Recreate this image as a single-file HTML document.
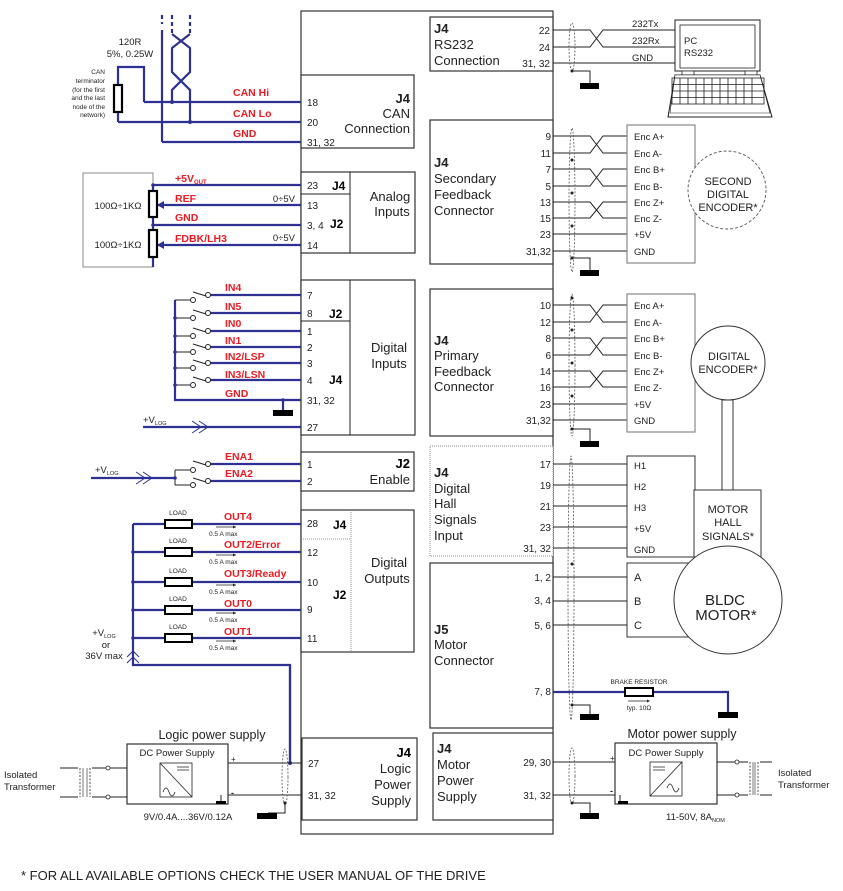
<!DOCTYPE html>
<html><head><meta charset="utf-8"><style>
html,body{margin:0;padding:0;background:#fff;}
svg{display:block;font-family:"Liberation Sans",Arial,sans-serif;}
.b{stroke:#2e3192;stroke-width:2.2;fill:none}
.k{stroke:#222;stroke-width:1;fill:none}
.bx{stroke:#333;stroke-width:1.2;fill:#fff}
.r{fill:#ed1c24;font-weight:bold;font-size:10.5px}
.p{font-size:10px;fill:#222}
.t{font-size:13px;fill:#222}
.s{font-size:9.5px;fill:#222}
.sh{stroke:#555;stroke-width:0.8;fill:none;stroke-dasharray:2,1.5}
</style></head><body>
<svg width="843" height="891" viewBox="0 0 843 891">
<defs>
<g id="gnd"><line x1="0" y1="0" x2="0" y2="0" /><rect x="-10" y="0" width="20" height="6" fill="#000"/></g>
</defs>
<!-- main drive outline -->
<rect x="301" y="11" width="252" height="823" fill="#fff" stroke="#333" stroke-width="1.2"/>

<!-- ===== CAN ===== -->
<rect class="bx" x="301" y="75" width="113" height="73"/>
<text class="t" x="410" y="103" text-anchor="end" font-weight="bold">J4</text>
<text class="t" x="410" y="118" text-anchor="end">CAN</text>
<text class="t" x="410" y="133" text-anchor="end">Connection</text>
<text class="p" x="307" y="106">18</text><text class="p" x="307" y="126">20</text><text class="p" x="307" y="146">31, 32</text>
<path class="b" d="M144 102H301M118 122H301M162 142H301M162 142V30"/>
<path class="b" d="M118 85V67H144V102" stroke-width="1.6"/>
<path class="b" d="M118 112V122" stroke-width="1.6"/>
<path class="b" d="M162 15V24M172 15V34M190 15V34" stroke-dasharray="4,3"/>
<path class="b" d="M172 34L190 48V72L172 90V102M190 34L172 48V72L190 90V122" stroke-width="1.4"/>
<circle cx="172" cy="102" r="2" fill="#2e3192"/><circle cx="190" cy="122" r="2" fill="#2e3192"/>
<rect x="114" y="85" width="8" height="27" fill="#fff" stroke="#000" stroke-width="2.2"/>
<text class="s" x="130" y="45" text-anchor="middle" font-size="10.5">120R</text>
<text class="s" x="130" y="57" text-anchor="middle" font-size="10.5">5%, 0.25W</text>
<g font-size="6.5" fill="#222" text-anchor="end">
<text x="105" y="74">CAN</text><text x="105" y="83">terminator</text><text x="105" y="92">(for the first</text><text x="105" y="100">and the last</text><text x="105" y="109">node of the</text><text x="105" y="117">network)</text></g>
<text class="r" x="233" y="96">CAN Hi</text><text class="r" x="233" y="117">CAN Lo</text><text class="r" x="233" y="137">GND</text>

<!-- ===== Analog ===== -->
<rect class="bx" x="301" y="172" width="114" height="81"/>
<path class="k" d="M350 172V253M301 194H350"/>
<text class="t" x="390" y="201" text-anchor="middle">Analog</text><text class="t" x="392" y="216" text-anchor="middle">Inputs</text>
<text x="332" y="190" font-size="12" font-weight="bold">J4</text><text x="330" y="228" font-size="12" font-weight="bold">J2</text>
<text class="p" x="307" y="189">23</text><text class="p" x="307" y="209">13</text><text class="p" x="307" y="229">3, 4</text><text class="p" x="307" y="249">14</text>
<rect x="83" y="173" width="70" height="94" fill="#fff" stroke="#888" stroke-width="1"/>
<path class="b" d="M153 185H301M153 225H301M153 185V267"/>
<path class="b" d="M158 205H301M158 245H301"/>
<path d="M157 205l7-4v8zM157 245l7-4v8z" fill="#2e3192"/>
<rect x="149" y="191" width="8" height="26" fill="#fff" stroke="#000" stroke-width="2.2"/>
<rect x="149" y="230" width="8" height="27" fill="#fff" stroke="#000" stroke-width="2.2"/>
<circle cx="153" cy="185" r="1.8" fill="#2e3192"/><circle cx="153" cy="225" r="1.8" fill="#2e3192"/>
<text class="s" x="118" y="209" text-anchor="middle">100Ω÷1KΩ</text><text class="s" x="118" y="248" text-anchor="middle">100Ω÷1KΩ</text>
<text class="r" x="175" y="182">+5V<tspan font-size="6" dy="2">OUT</tspan></text>
<text class="r" x="175" y="202">REF</text><text class="r" x="175" y="221">GND</text><text class="r" x="175" y="242">FDBK/LH3</text>
<text class="s" x="295" y="202" text-anchor="end">0÷5V</text><text class="s" x="295" y="241" text-anchor="end">0÷5V</text>

<!-- ===== Digital inputs ===== -->
<rect class="bx" x="301" y="280" width="114" height="155"/>
<path class="k" d="M350 280V435M301 321H350"/>
<text class="t" x="389" y="352" text-anchor="middle">Digital</text><text class="t" x="389" y="368" text-anchor="middle">Inputs</text>
<text x="329" y="318" font-size="12" font-weight="bold">J2</text><text x="329" y="384" font-size="12" font-weight="bold">J4</text>
<g class="p"><text x="307" y="299">7</text><text x="307" y="317">8</text><text x="307" y="335">1</text><text x="307" y="351">2</text><text x="307" y="367">3</text><text x="307" y="384">4</text><text x="307" y="404">31, 32</text><text x="307" y="431">27</text></g>
<path class="b" d="M210 295H301M210 313H301M210 331H301M210 347H301M210 363H301M210 380H301M175 300V400H301M283 400V410"/>
<use href="#gnd" x="283" y="410"/>
<g class="k">
<path d="M175 300H190M175 318H190M175 336H190M175 352H190M175 368H190M175 385H190"/>
<path d="M193 292L206 296M193 310L206 314M193 328L206 332M193 344L206 348M193 360L206 364M193 377L206 381"/>
<g fill="#fff"><circle cx="193" cy="300" r="2.5"/><circle cx="193" cy="318" r="2.5"/><circle cx="193" cy="336" r="2.5"/><circle cx="193" cy="352" r="2.5"/><circle cx="193" cy="368" r="2.5"/><circle cx="193" cy="385" r="2.5"/>
<circle cx="208" cy="295" r="2.5"/><circle cx="208" cy="313" r="2.5"/><circle cx="208" cy="331" r="2.5"/><circle cx="208" cy="347" r="2.5"/><circle cx="208" cy="363" r="2.5"/><circle cx="208" cy="380" r="2.5"/></g></g>
<g fill="#2e3192"><circle cx="175" cy="318" r="1.8"/><circle cx="175" cy="336" r="1.8"/><circle cx="175" cy="352" r="1.8"/><circle cx="175" cy="368" r="1.8"/><circle cx="175" cy="385" r="1.8"/><circle cx="283" cy="400" r="1.8"/></g>
<text class="r" x="225" y="291">IN4</text><text class="r" x="225" y="310">IN5</text><text class="r" x="225" y="327">IN0</text><text class="r" x="225" y="344">IN1</text><text class="r" x="225" y="360">IN2/LSP</text><text class="r" x="225" y="378">IN3/LSN</text><text class="r" x="225" y="397">GND</text>
<path class="b" d="M143 427H301"/>
<path d="M192 421l9 6-9 6M199 421l9 6-9 6" stroke="#2e3192" stroke-width="1" fill="none"/>
<text class="s" x="143" y="423" font-size="10">+V<tspan font-size="5.5" dy="2">LOG</tspan></text>

<!-- ===== Enable ===== -->
<rect class="bx" x="301" y="452" width="113" height="39"/>
<text x="410" y="468" text-anchor="end" font-size="13" font-weight="bold">J2</text><text class="t" x="410" y="484" text-anchor="end">Enable</text>
<text class="p" x="307" y="468">1</text><text class="p" x="307" y="485">2</text>
<path class="b" d="M210 464H301M210 481H301M91 478H175"/>
<path d="M136 472l9 6-9 6M143 472l9 6-9 6" stroke="#2e3192" stroke-width="1" fill="none"/>
<path class="k" d="M175 470V485M175 470H190M175 485H190M193 461L206 465M193 478L206 482"/>
<g class="k" fill="#fff"><circle cx="193" cy="470" r="2.5" fill="#fff"/><circle cx="193" cy="485" r="2.5" fill="#fff"/><circle cx="208" cy="464" r="2.5" fill="#fff"/><circle cx="208" cy="481" r="2.5" fill="#fff"/></g>
<circle cx="175" cy="478" r="1.8" fill="#2e3192"/>
<text class="r" x="225" y="460">ENA1</text><text class="r" x="225" y="477">ENA2</text>
<text class="s" x="95" y="473" font-size="10">+V<tspan font-size="5.5" dy="2">LOG</tspan></text>

<!-- ===== Digital outputs ===== -->
<rect class="bx" x="301" y="510" width="113" height="142"/>
<path d="M351 510V652M301 539H351" stroke="#777" stroke-width="0.8" stroke-dasharray="1,1" fill="none"/>
<text class="t" x="389" y="567" text-anchor="middle">Digital</text><text class="t" x="387" y="583" text-anchor="middle">Outputs</text>
<text x="333" y="529" font-size="12" font-weight="bold">J4</text><text x="333" y="599" font-size="12" font-weight="bold">J2</text>
<g class="p"><text x="307" y="527">28</text><text x="307" y="556">12</text><text x="307" y="586">10</text><text x="307" y="613">9</text><text x="307" y="642">11</text></g>
<path class="b" d="M133 524H301M133 552H301M133 582H301M133 610H301M133 638H301M133 524V665H290V763"/>
<path class="b" d="M290 665V763" stroke-width="1.4" stroke="#6a6cb0"/>
<g fill="#fff" stroke="#000" stroke-width="2">
<rect x="165" y="520" width="27" height="8"/><rect x="165" y="548" width="27" height="8"/><rect x="165" y="578" width="27" height="8"/><rect x="165" y="606" width="27" height="8"/><rect x="165" y="634" width="27" height="8"/></g>
<g font-size="6.5" fill="#222" text-anchor="middle"><text x="178" y="515">LOAD</text><text x="178" y="543">LOAD</text><text x="178" y="573">LOAD</text><text x="178" y="601">LOAD</text><text x="178" y="629">LOAD</text></g>
<g fill="#2e3192"><circle cx="133" cy="552" r="1.8"/><circle cx="133" cy="582" r="1.8"/><circle cx="133" cy="610" r="1.8"/><circle cx="133" cy="638" r="1.8"/><circle cx="290" cy="763" r="2"/></g>
<text class="r" x="224" y="520">OUT4</text><text class="r" x="224" y="548">OUT2/Error</text><text class="r" x="224" y="577">OUT3/Ready</text><text class="r" x="224" y="607">OUT0</text><text class="r" x="224" y="635">OUT1</text>
<g font-size="6.5" fill="#222"><text x="209" y="536">0.5 A max</text><text x="209" y="564">0.5 A max</text><text x="209" y="594">0.5 A max</text><text x="209" y="622">0.5 A max</text><text x="209" y="650">0.5 A max</text></g>
<path d="M216 527H236M216 555H236M216 585H236M216 613H236M216 641H236" stroke="#222" stroke-width="0.7"/>
<path d="M236 527l-3-1.5v3zM236 555l-3-1.5v3zM236 585l-3-1.5v3zM236 613l-3-1.5v3zM236 641l-3-1.5v3z" fill="#222"/>
<path d="M127 657l6-6 6 6M127 663l6-6 6 6" stroke="#2e3192" stroke-width="1" fill="none"/>
<text class="s" x="104" y="636" font-size="10" text-anchor="middle">+V<tspan font-size="5.5" dy="2">LOG</tspan></text>
<text class="s" x="106" y="648" font-size="10" text-anchor="middle">or</text>
<text class="s" x="104" y="659" font-size="10" text-anchor="middle">36V max</text>

<!-- ===== Logic power supply ===== -->
<rect class="bx" x="302" y="738" width="115" height="82"/>
<text x="411" y="757" text-anchor="end" font-size="13" font-weight="bold">J4</text>
<text class="t" x="411" y="773" text-anchor="end">Logic</text><text class="t" x="411" y="789" text-anchor="end">Power</text><text class="t" x="411" y="805" text-anchor="end">Supply</text>
<text class="p" x="308" y="767">27</text><text class="p" x="308" y="799">31, 32</text>
<path class="k" d="M228 763H302M228 795H302"/>
<ellipse class="sh" cx="285" cy="777" rx="3" ry="28"/>
<path class="k" d="M285 803V813H268V813"/><circle cx="285" cy="803" r="1.5" fill="#222"/>
<rect x="257" y="813" width="20" height="6" fill="#000"/>
<text x="212" y="739" font-size="12.5" text-anchor="middle" fill="#222">Logic power supply</text>
<rect class="bx" x="127" y="744" width="101" height="60"/>
<text class="s" x="177" y="756" text-anchor="middle">DC Power Supply</text>
<rect x="160" y="763" width="32" height="34" fill="#fff" stroke="#222" stroke-width="0.8"/>
<path d="M160 763L192 797M177 767H189M177 770H189M163 792q3-8 6 0t6 0" stroke="#222" stroke-width="0.8" fill="none"/>
<text x="231" y="762" font-size="8" fill="#222">+</text><text x="231" y="796" font-size="9" fill="#222" font-weight="bold">-</text>
<path class="k" d="M221 795V802"/><rect x="216" y="801" width="10" height="3" fill="#000"/>
<text class="s" x="188" y="820" text-anchor="middle">9V/0.4A....36V/0.12A</text>
<path class="k" d="M60 768H78M60 797H78M92 768H106M92 797H106M106 768H127M106 797H127"/>
<circle cx="108" cy="768" r="2" fill="#fff" stroke="#222" stroke-width="0.8"/><circle cx="108" cy="797" r="2" fill="#fff" stroke="#222" stroke-width="0.8"/>
<path d="M80 768v29M90 768v29" stroke="#222" stroke-width="0.8" stroke-dasharray="2,1.5"/>
<path d="M83 768v29M87 768v29" stroke="#222" stroke-width="0.6"/>
<text class="s" x="4" y="778">Isolated</text><text class="s" x="4" y="790">Transformer</text>

<!-- ===== RS232 ===== -->
<rect class="bx" x="430" y="17" width="123" height="54"/>
<text x="434" y="33" font-size="13" font-weight="bold" fill="#222">J4</text><text class="t" x="434" y="49">RS232</text><text class="t" x="434" y="65">Connection</text>
<g class="p" text-anchor="end"><text x="550" y="34">22</text><text x="550" y="51">24</text><text x="550" y="67">31, 32</text></g>
<path class="k" d="M553 30H590L603 47H675M553 47H590L603 30H675M553 63H675"/>
<ellipse class="sh" cx="572" cy="47" rx="3" ry="24"/>
<path class="k" d="M572 71H590V83"/><circle cx="572" cy="71" r="1.5" fill="#222"/>
<rect x="580" y="83" width="19" height="6" fill="#000"/>
<g font-size="9.5" fill="#222"><text x="632" y="27">232Tx</text><text x="632" y="44">232Rx</text><text x="632" y="61">GND</text></g>
<rect x="675" y="20" width="85" height="51" fill="#fff" stroke="#222" stroke-width="1"/>
<rect x="680" y="25" width="75" height="43" fill="#fff" stroke="#222" stroke-width="0.8"/>
<text x="684" y="44" font-size="9.5" fill="#222">PC</text><text x="684" y="56" font-size="9.5" fill="#222">RS232</text>
<path d="M682 71h12v4h-12zM745 71h12v4h-12z" fill="#fff" stroke="#222" stroke-width="0.8"/>
<path d="M675 75H760L772 117H668Z" fill="#fff" stroke="#222" stroke-width="1"/>
<path d="M675 75H760L770 113H670Z" fill="#fff" stroke="#222" stroke-width="0.6"/>
<rect x="672" y="78" width="92" height="26" fill="none" stroke="#222" stroke-width="0.8"/>
<path d="M672 84.5H764M672 91H764M672 97.5H764M680 78v26M688 78v26M696 78v26M704 78v26M712 78v26M720 78v26M728 78v26M736 78v26M744 78v26M752 78v26" stroke="#222" stroke-width="0.8"/>

<!-- ===== Secondary feedback ===== -->
<rect class="bx" x="430" y="120" width="123" height="144"/>
<text x="434" y="167" font-size="13" font-weight="bold" fill="#222">J4</text><text class="t" x="434" y="183">Secondary</text><text class="t" x="434" y="199">Feedback</text><text class="t" x="434" y="215">Connector</text>
<g class="p" text-anchor="end"><text x="551" y="140">9</text><text x="551" y="157">11</text><text x="551" y="173">7</text><text x="551" y="190">5</text><text x="551" y="206">13</text><text x="551" y="222">15</text><text x="551" y="238">23</text><text x="551" y="255">31,32</text></g>
<path class="k" d="M553 136H590L603 153H627M553 153H590L603 136H627M553 169H590L603 186H627M553 186H590L603 169H627M553 202H590L603 218H627M553 218H590L603 202H627M553 234H627M553 251H627"/>
<ellipse class="sh" cx="572" cy="200" rx="3" ry="72"/>
<g fill="#222"><circle cx="572" cy="160" r="1.5"/><circle cx="572" cy="193" r="1.5"/><circle cx="572" cy="226" r="1.5"/><circle cx="572" cy="258" r="1.5"/></g>
<path class="k" d="M572 258H590V270"/><rect x="580" y="270" width="19" height="6" fill="#000"/>
<rect x="627" y="125" width="68" height="138" fill="#fff" stroke="#888" stroke-width="1.2"/>
<g font-size="9.5" fill="#222"><text x="634" y="140">Enc A+</text><text x="634" y="157">Enc A-</text><text x="634" y="173">Enc B+</text><text x="634" y="190">Enc B-</text><text x="634" y="206">Enc Z+</text><text x="634" y="222">Enc Z-</text><text x="634" y="238">+5V</text><text x="634" y="255">GND</text></g>
<circle cx="727" cy="190" r="39" fill="#fff" stroke="#555" stroke-width="0.9" stroke-dasharray="3,2"/>
<g font-size="11" fill="#222" text-anchor="middle"><text x="728" y="185">SECOND</text><text x="728" y="198">DIGITAL</text><text x="728" y="211">ENCODER*</text></g>

<!-- ===== Primary feedback ===== -->
<rect class="bx" x="430" y="289" width="123" height="147"/>
<text x="434" y="345" font-size="13" font-weight="bold" fill="#222">J4</text><text class="t" x="434" y="360">Primary</text><text class="t" x="434" y="376">Feedback</text><text class="t" x="434" y="391">Connector</text>
<g class="p" text-anchor="end"><text x="551" y="309">10</text><text x="551" y="326">12</text><text x="551" y="342">8</text><text x="551" y="359">6</text><text x="551" y="375">14</text><text x="551" y="391">16</text><text x="551" y="408">23</text><text x="551" y="424">31,32</text></g>
<path class="k" d="M553 305H590L603 322H627M553 322H590L603 305H627M553 338H590L603 355H627M553 355H590L603 338H627M553 371H590L603 387H627M553 387H590L603 371H627M553 404H627M553 420H627"/>
<ellipse class="sh" cx="572" cy="365" rx="3" ry="71"/>
<g fill="#222"><circle cx="572" cy="298" r="1.5"/><circle cx="572" cy="330" r="1.5"/><circle cx="572" cy="363" r="1.5"/><circle cx="572" cy="396" r="1.5"/><circle cx="572" cy="429" r="1.5"/></g>
<path class="k" d="M572 429H590V441"/><rect x="580" y="441" width="19" height="6" fill="#000"/>
<rect x="627" y="294" width="68" height="138" fill="#fff" stroke="#888" stroke-width="1.2"/>
<g font-size="9.5" fill="#222"><text x="634" y="309">Enc A+</text><text x="634" y="326">Enc A-</text><text x="634" y="342">Enc B+</text><text x="634" y="359">Enc B-</text><text x="634" y="375">Enc Z+</text><text x="634" y="391">Enc Z-</text><text x="634" y="408">+5V</text><text x="634" y="424">GND</text></g>
<rect x="722" y="400" width="11" height="90" fill="#fff" stroke="#333" stroke-width="1"/>
<circle cx="728" cy="363" r="37" fill="#fff" stroke="#333" stroke-width="1"/>
<g font-size="11" fill="#222" text-anchor="middle"><text x="729" y="360">DIGITAL</text><text x="728" y="373">ENCODER*</text></g>

<!-- ===== Hall ===== -->
<rect x="430" y="446" width="123" height="110" fill="#fff" stroke="#888" stroke-width="0.9" stroke-dasharray="1,1"/>
<text x="434" y="477" font-size="13" font-weight="bold" fill="#222">J4</text><text class="t" x="434" y="493">Digital</text><text class="t" x="434" y="508">Hall</text><text class="t" x="434" y="524">Signals</text><text class="t" x="434" y="540">Input</text>
<g class="p" text-anchor="end"><text x="551" y="468">17</text><text x="551" y="489">19</text><text x="551" y="510">21</text><text x="551" y="531">23</text><text x="551" y="552">31, 32</text></g>
<path class="k" d="M553 464H627M553 485H627M553 506H627M553 527H627M553 548H627"/>
<ellipse class="sh" cx="571" cy="588" rx="3" ry="132" stroke-dasharray="1,1.5"/>
<rect x="627" y="456" width="68" height="101" fill="#fff" stroke="#333" stroke-width="1"/>
<g font-size="9.5" fill="#222"><text x="634" y="469">H1</text><text x="634" y="490">H2</text><text x="634" y="511">H3</text><text x="634" y="532">+5V</text><text x="634" y="553">GND</text></g>
<rect x="694" y="490" width="67" height="67" fill="#fff" stroke="#333" stroke-width="1"/>
<g font-size="11" fill="#222" text-anchor="middle"><text x="728" y="513">MOTOR</text><text x="728" y="526">HALL</text><text x="728" y="540">SIGNALS*</text></g>

<!-- ===== J5 motor ===== -->
<rect class="bx" x="430" y="563" width="123" height="165"/>
<text x="434" y="634" font-size="13" font-weight="bold" fill="#222">J5</text><text class="t" x="434" y="649">Motor</text><text class="t" x="434" y="665">Connector</text>
<g class="p" text-anchor="end"><text x="551" y="581">1, 2</text><text x="551" y="604">3, 4</text><text x="551" y="629">5, 6</text><text x="551" y="695">7, 8</text></g>
<path class="k" d="M553 577H627M553 601H627M553 625H627"/>
<circle cx="572" cy="564" r="1.5" fill="#222"/><circle cx="572" cy="705" r="1.5" fill="#222"/>
<path class="k" d="M572 705H590V714"/><rect x="580" y="714" width="19" height="6" fill="#000"/>
<rect x="627" y="563" width="73" height="74" fill="#fff" stroke="#333" stroke-width="1"/>
<g font-size="11" fill="#222"><text x="634" y="581">A</text><text x="634" y="605">B</text><text x="634" y="629">C</text></g>
<circle cx="728" cy="600" r="54" fill="#fff" stroke="#333" stroke-width="1"/>
<g font-size="15" fill="#222" text-anchor="middle"><text x="725" y="605">BLDC</text><text x="726" y="620">MOTOR*</text></g>
<path class="b" d="M553 692H728V713"/>
<rect x="625" y="688" width="28" height="8" fill="#fff" stroke="#000" stroke-width="2"/>
<rect x="718" y="712" width="20" height="6" fill="#000"/>
<text x="639" y="684" font-size="6.5" fill="#222" text-anchor="middle">BRAKE RESISTOR</text>
<path d="M628 701H649" stroke="#222" stroke-width="0.7"/><path d="M650 701l-3-1.5v3z" fill="#222"/>
<text x="639" y="710" font-size="6.5" fill="#222" text-anchor="middle">typ. 10Ω</text>

<!-- ===== Motor power supply ===== -->
<rect class="bx" x="433" y="733" width="120" height="87"/>
<text x="437" y="753" font-size="13" font-weight="bold" fill="#222">J4</text><text class="t" x="437" y="769">Motor</text><text class="t" x="437" y="785">Power</text><text class="t" x="437" y="801">Supply</text>
<g class="p" text-anchor="end"><text x="551" y="766">29, 30</text><text x="551" y="799">31, 32</text></g>
<path class="k" d="M553 762H615M553 795H615"/>
<ellipse class="sh" cx="572" cy="776" rx="3" ry="28"/>
<path class="k" d="M572 803H590V813"/><circle cx="572" cy="803" r="1.5" fill="#222"/>
<rect x="580" y="813" width="19" height="6" fill="#000"/>
<text x="682" y="738" font-size="12.5" text-anchor="middle" fill="#222">Motor power supply</text>
<rect class="bx" x="615" y="743" width="102" height="61"/>
<text class="s" x="666" y="756" text-anchor="middle">DC Power Supply</text>
<rect x="650" y="762" width="32" height="34" fill="#fff" stroke="#222" stroke-width="0.8"/>
<path d="M650 796L682 762M653 767H665M653 770H665M667 788q3-8 6 0t6 0" stroke="#222" stroke-width="0.8" fill="none"/>
<text x="610" y="761" font-size="8" fill="#222">+</text><text x="610" y="794" font-size="9" fill="#222" font-weight="bold">-</text>
<path class="k" d="M620 795V802"/><rect x="618" y="801" width="10" height="3" fill="#000"/>
<text class="s" x="666" y="820">11-50V, 8A<tspan font-size="5.5" dy="2">NOM</tspan></text>
<path class="k" d="M717 762H735M717 795H735M739 762H748M739 795H748M760 762H772M760 795H772"/>
<circle cx="737" cy="762" r="2" fill="#fff" stroke="#222" stroke-width="0.8"/><circle cx="737" cy="795" r="2" fill="#fff" stroke="#222" stroke-width="0.8"/>
<path d="M750 762v33M758 762v33" stroke="#222" stroke-width="0.8" stroke-dasharray="2,1.5"/>
<path d="M753 762v33M755 762v33" stroke="#222" stroke-width="0.6"/>
<text class="s" x="778" y="776">Isolated</text><text class="s" x="778" y="788">Transformer</text>

<text x="21" y="880" font-size="13" fill="#222">* FOR ALL AVAILABLE OPTIONS CHECK THE USER MANUAL OF THE DRIVE</text>
</svg>
</body></html>
